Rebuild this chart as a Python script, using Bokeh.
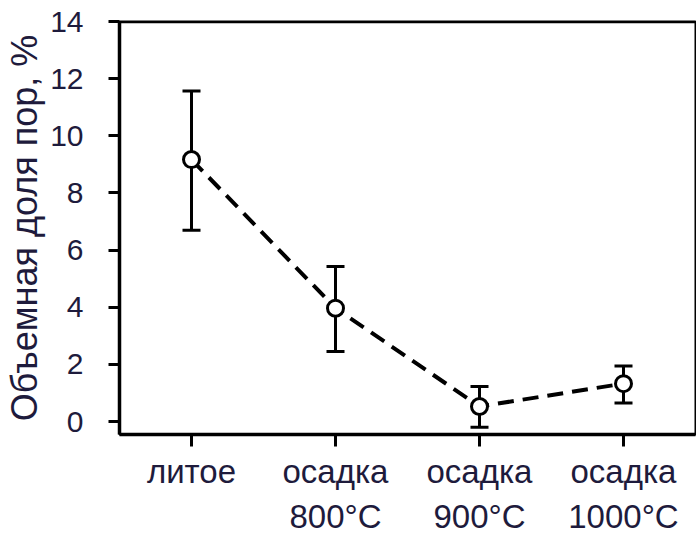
from bokeh.plotting import figure
from bokeh.models import (ColumnDataSource, FixedTicker, LinearAxis, Whisker,
                          TeeHead, Span, Range1d)
from bokeh.embed import file_html
from bokeh.resources import INLINE

# ---- data ----
line1 = ["литое", "осадка", "осадка", "осадка"]
line2 = ["", "800°C", "900°C", "1000°C"]
xpos = [0, 1, 2, 3]
means = [9.17, 3.97, 0.53, 1.33]
upper = [11.57, 5.43, 1.23, 1.95]
lower = [6.70, 2.45, -0.20, 0.65]
yticks = [0, 2, 4, 6, 8, 10, 12, 14]

FONT = "Liberation Sans"
TXT = "#1e1b3c"

src = ColumnDataSource(dict(x=xpos, y=means, upper=upper, lower=lower))

p = figure(width=696, height=537, output_backend="svg", toolbar_location=None,
           x_range=Range1d(-0.5, 3.5), y_range=Range1d(-0.45, 14.0),
           x_axis_location=None, y_axis_location=None,
           min_border_left=119, min_border_top=21, min_border_right=1,
           min_border_bottom=0)
p.grid.visible = False
p.outline_line_color = "black"
p.outline_line_width = 2
p.background_fill_color = "white"
p.border_fill_color = "white"

# left axis
yax = LinearAxis(ticker=FixedTicker(ticks=yticks))
yax.axis_line_width = 3.5
yax.axis_line_color = "black"
yax.major_tick_line_width = 3
yax.major_tick_out = 11
yax.major_tick_in = 0
yax.minor_tick_line_color = None
yax.major_label_text_font = FONT
yax.major_label_text_font_size = "30px"
yax.major_label_text_color = TXT
yax.major_label_standoff = 25
yax.axis_label = "Объемная доля пор, %"
yax.axis_label_text_font = FONT
yax.axis_label_text_font_size = "36px"
yax.axis_label_text_font_style = "normal"
yax.axis_label_text_color = TXT
yax.axis_label_standoff = 2
p.add_layout(yax, "left")

# bottom axis, first line
xax = LinearAxis(ticker=FixedTicker(ticks=xpos))
xax.major_label_overrides = {i: t for i, t in zip(xpos, line1)}
xax.axis_line_width = 3.5
xax.axis_line_color = "black"
xax.major_tick_line_width = 3
xax.major_tick_out = 12
xax.major_tick_in = 0
xax.minor_tick_line_color = None
xax.major_label_text_font = FONT
xax.major_label_text_font_size = "33px"
xax.major_label_text_color = TXT
xax.major_label_standoff = 6
p.add_layout(xax, "below")

# bottom axis, second line
xax2 = LinearAxis(ticker=FixedTicker(ticks=xpos))
xax2.major_label_overrides = {i: t for i, t in zip(xpos, line2)}
xax2.axis_line_color = None
xax2.major_tick_line_color = None
xax2.major_tick_out = 0
xax2.major_tick_in = 0
xax2.minor_tick_line_color = None
xax2.major_label_text_font = FONT
xax2.major_label_text_font_size = "33px"
xax2.major_label_text_color = TXT
xax2.major_label_standoff = 5
p.add_layout(xax2, "below")

# top border
p.add_layout(Span(location=14.0, dimension="width", line_color="black", line_width=3.5))

# error bars
w = Whisker(base="x", upper="upper", lower="lower", source=src,
            line_color="black", line_width=3,
            upper_head=TeeHead(size=18, line_width=3, line_color="black"),
            lower_head=TeeHead(size=18, line_width=3, line_color="black"))
p.add_layout(w)

p.line("x", "y", source=src, line_color="black", line_width=4, line_dash="16 9")
p.scatter("x", "y", source=src, marker="circle", size=16, fill_color="white",
          line_color="black", line_width=3)

open("out.html", "w").write(file_html(p, INLINE))
